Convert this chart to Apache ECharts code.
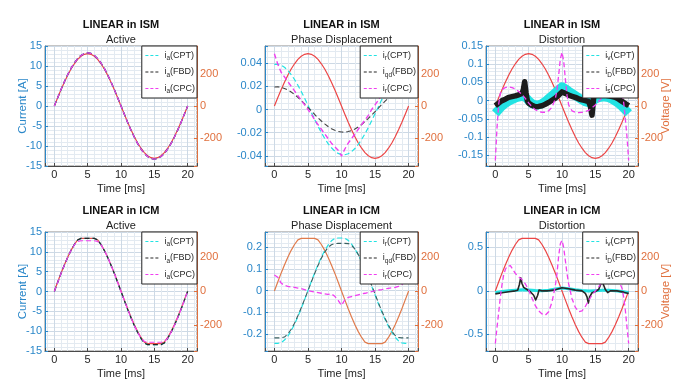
<!DOCTYPE html>
<html>
<head>
<meta charset="utf-8">
<script src="https://cdn.jsdelivr.net/npm/echarts@6/dist/echarts.min.js"></script>
<style>
  html, body { margin: 0; padding: 0; background: #fff; }
  #chart { width: 682px; height: 382px; }
</style>
</head>
<body>
<div id="chart"></div>
<script>
// time base, ms
var T = [0, 0.5, 1, 1.5, 2, 2.5, 3, 3.5, 4, 4.5, 5, 5.5, 6, 6.5, 7, 7.5, 8, 8.5, 9, 9.5, 10,
  10.5, 11, 11.5, 12, 12.5, 13, 13.5, 14, 14.5, 15, 15.5, 16, 16.5, 17, 17.5, 18, 18.5, 19, 19.5, 20];
var T1 = [0, 1, 2, 3, 4, 5, 6, 7, 8, 9, 10, 11, 12, 13, 14, 15, 16, 17, 18, 19, 20];

// supply voltage [V]
var vISM = [0, 51, 101, 148, 192, 231, 264, 291, 311, 323, 327, 323, 311, 291, 264, 231, 192, 148, 101, 51, 0,
  -51, -101, -148, -192, -231, -264, -291, -311, -323, -327, -323, -311, -291, -264, -231, -192, -148, -101, -51, 0];
var vICM = [0, 52, 104, 152, 197, 237, 271, 298, 307, 307, 307, 307, 307, 298, 271, 237, 197, 152, 104, 52, 0,
  -52, -104, -152, -197, -237, -271, -298, -307, -307, -307, -307, -307, -298, -271, -237, -197, -152, -104, -52, 0];

// active currents [A]
var iaISM = [0, 2.08, 4.11, 6.04, 7.82, 9.4, 10.76, 11.85, 12.65, 13.14, 13.3, 13.14, 12.65, 11.85, 10.76, 9.4, 7.82, 6.04, 4.11, 2.08, 0,
  -2.08, -4.11, -6.04, -7.82, -9.4, -10.76, -11.85, -12.65, -13.14, -13.3, -13.14, -12.65, -11.85, -10.76, -9.4, -7.82, -6.04, -4.11, -2.08, 0];
var iaICM = [0, 2.27, 4.54, 6.63, 8.6, 10.34, 11.83, 13.0, 13.4, 13.4, 13.4, 13.4, 13.4, 13.0, 11.83, 10.34, 8.6, 6.63, 4.54, 2.27, 0,
  -2.27, -4.54, -6.63, -8.6, -10.34, -11.83, -13.0, -13.4, -13.4, -13.4, -13.4, -13.4, -13.0, -11.83, -10.34, -8.6, -6.63, -4.54, -2.27, 0];
var iaCpcICM = [0, 2.27, 4.54, 6.63, 8.6, 10.34, 11.8, 12.6, 12.8, 12.8, 12.8, 12.8, 12.8, 12.6, 11.8, 10.34, 8.6, 6.63, 4.54, 2.27, 0,
  -2.27, -4.54, -6.63, -8.6, -10.34, -11.8, -12.6, -12.8, -12.8, -12.8, -12.8, -12.8, -12.6, -11.8, -10.34, -8.6, -6.63, -4.54, -2.27, 0];

// phase displacement currents [A]
var irCptISM = [0.0388, 0.0389, 0.0381, 0.0363, 0.0336, 0.03, 0.0258, 0.0209, 0.0155, 0.0097, 0.0037, -0.0024, -0.0085, -0.0144, -0.0199, -0.0249, -0.0293, -0.0329, -0.0358, -0.0378, -0.0388,
  -0.0389, -0.0381, -0.0363, -0.0336, -0.03, -0.0258, -0.0209, -0.0155, -0.0097, -0.0037, 0.0024, 0.0085, 0.0144, 0.0199, 0.0249, 0.0293, 0.0329, 0.0358, 0.0378, 0.0388];
var iqdISM = [0.0194, 0.0195, 0.019, 0.0181, 0.0168, 0.015, 0.0129, 0.0104, 0.0077, 0.0048, 0.0018, -0.0012, -0.0043, -0.0072, -0.0099, -0.0124, -0.0146, -0.0165, -0.0179, -0.0189, -0.0194,
  -0.0195, -0.019, -0.0181, -0.0168, -0.015, -0.0129, -0.0104, -0.0077, -0.0048, -0.0018, 0.0012, 0.0043, 0.0072, 0.0099, 0.0124, 0.0146, 0.0165, 0.0179, 0.0189, 0.0194];
var irCpcISM = [0.048, 0.039, 0.032, 0.028, 0.024, 0.02, 0.016, 0.012, 0.008, 0.004, 0, -0.004, -0.009, -0.013, -0.017, -0.021, -0.025, -0.029, -0.032, -0.035, -0.04,
  -0.034, -0.029, -0.025, -0.021, -0.017, -0.013, -0.009, -0.005, 0, 0.004, 0.008, 0.013, 0.017, 0.021, 0.025, 0.028, 0.031, 0.034, 0.039, 0.047];
var irCptICM = [-0.243, -0.243, -0.24, -0.228, -0.21, -0.185, -0.155, -0.12, -0.082, -0.042, 0, 0.042, 0.082, 0.12, 0.155, 0.185, 0.21, 0.23, 0.241, 0.243, 0.243,
  0.241, 0.232, 0.215, 0.192, 0.165, 0.133, 0.098, 0.06, 0.02, -0.02, -0.06, -0.098, -0.133, -0.165, -0.192, -0.215, -0.232, -0.241, -0.243, -0.243];
var iqdICM = [-0.218, -0.218, -0.218, -0.214, -0.2, -0.178, -0.15, -0.116, -0.079, -0.04, 0, 0.04, 0.079, 0.116, 0.15, 0.178, 0.2, 0.212, 0.217, 0.218, 0.218,
  0.218, 0.217, 0.21, 0.192, 0.167, 0.137, 0.102, 0.064, 0.024, -0.016, -0.056, -0.094, -0.128, -0.16, -0.187, -0.207, -0.216, -0.218, -0.218, -0.218];
var irCpcICM = [0.072, 0.062, 0.035, 0.024, 0.02, 0.017, 0.015, 0.012, 0.009, 0.005, 0, -0.003, -0.006, -0.009, -0.012, -0.015, -0.017, -0.015, -0.026, -0.045, -0.068,
  -0.042, -0.031, -0.027, -0.023, -0.019, -0.015, -0.012, -0.008, -0.004, 0, 0.003, 0.005, 0.008, 0.011, 0.013, 0.015, 0.02, 0.028, 0.043, 0.062];

// distortion currents, ISM [A]
var ivISM = [-0.035, -0.025, -0.015, -0.008, -0.002, 0.003, 0.007, 0.01, 0.012, 0.01, 0, -0.008, -0.012, -0.012, -0.008, -0.002, 0.006, 0.014, 0.022, 0.03, 0.038,
  0.033, 0.026, 0.02, 0.014, 0.008, 0.002, -0.003, -0.006, -0.003, 0.004, 0.008, 0.01, 0.01, 0.008, 0.004, -0.002, -0.008, -0.016, -0.025, -0.035];
var tDISM = [0, 0.5, 1, 1.5, 2, 2.5, 3, 3.5, 4, 4.2, 4.4, 4.6, 4.8, 5, 5.5, 6, 6.5, 7, 7.5, 8, 8.5, 9, 9.5, 10,
  10.5, 11, 11.5, 12, 12.5, 13, 13.5, 14, 14.25, 14.5, 14.75, 15, 15.5, 16, 16.5, 17, 17.5, 18, 18.5, 19, 19.5, 20];
var iDISM = [-0.014, -0.007, 0, 0.004, 0.009, 0.011, 0.013, 0.016, 0.02, 0.03, 0.052, 0.022, 0, -0.007, -0.013, -0.017, -0.016, -0.014, -0.01, -0.005, 0.001, 0.007, 0.015, 0.024,
  0.02, 0.015, 0.012, 0.009, 0.005, 0.002, 0, -0.003, -0.015, -0.04, 0.008, 0.018, 0.02, 0.018, 0.015, 0.013, 0.011, 0.009, 0.004, -0.002, -0.008, -0.014];
var tSISM = [0, 0.25, 0.5, 0.75, 1, 1.5, 2, 2.5, 3, 3.5, 4, 4.5, 5, 5.5, 6, 6.5, 7, 7.5, 8, 8.5, 9, 9.25, 9.5, 9.75, 10,
  10.25, 10.5, 10.75, 11, 11.5, 12, 12.5, 13, 13.5, 14, 14.5, 15, 15.5, 16, 16.5, 17, 17.5, 18, 18.5, 19, 19.25, 19.5, 19.75, 20];
var isISM = [-0.165, -0.075, -0.01, 0.02, 0.03, 0.036, 0.038, 0.036, 0.032, 0.025, 0.017, 0.006, -0.006, -0.017, -0.025, -0.03, -0.032, -0.032, -0.028, -0.018, 0.005, 0.03, 0.07, 0.115, 0.133,
  0.11, 0.06, 0.015, -0.012, -0.028, -0.032, -0.033, -0.032, -0.03, -0.027, -0.02, -0.012, -0.002, 0.008, 0.018, 0.026, 0.032, 0.035, 0.033, 0.02, -0.005, -0.05, -0.1, -0.165];

// distortion currents, ICM [A]
var ivICM = [-0.02, -0.008, 0, 0.008, 0.012, 0.01, 0.004, 0.002, 0.008, 0.02, 0.032, 0.024, 0.012, 0.004, -0.002, 0.002, 0.006, 0.006, 0.002, -0.008, -0.02];
var tDICM = [0, 1, 2, 3, 3.35, 3.6, 3.8, 4, 4.25, 4.75, 5.25, 5.75, 6.05, 6.35, 6.55, 6.75, 7, 7.75, 8.75, 10,
  11, 12, 13, 13.25, 13.5, 13.75, 13.95, 14.15, 14.5, 15, 15.5, 15.75, 16, 16.25, 16.5, 16.85, 17.25, 18.25, 19.25, 20];
var iDICM = [-0.035, -0.022, -0.01, 0, 0.008, 0.07, 0.15, 0.085, 0.04, 0.015, -0.01, -0.05, -0.105, -0.05, 0.008, 0.027, 0, 0, 0.008, 0.035,
  0.025, 0.008, 0, -0.01, -0.03, -0.07, -0.14, -0.07, -0.022, -0.008, 0.015, 0.065, 0.115, 0.065, 0.015, -0.02, 0, 0, -0.015, -0.03];
var tSICM = [0, 0.25, 0.5, 0.75, 1, 1.25, 1.5, 1.75, 2, 2.25, 2.5, 3, 3.5, 4, 4.5, 5, 5.5, 6, 6.5, 7, 7.5, 8, 8.5, 9, 9.25, 9.5, 9.75, 10,
  10.25, 10.5, 10.75, 11, 11.5, 12, 12.5, 13, 13.5, 14, 14.5, 15, 15.5, 16, 16.5, 17, 17.5, 18, 18.5, 19, 19.25, 19.5, 19.75, 20];
var isICM = [-0.605, -0.42, -0.25, -0.07, 0.07, 0.18, 0.245, 0.28, 0.295, 0.29, 0.26, 0.2, 0.16, 0.13, 0.08, 0.01, -0.085, -0.17, -0.23, -0.265, -0.28, -0.24, -0.13, 0.06, 0.2, 0.4, 0.54, 0.58,
  0.5, 0.35, 0.2, 0.08, -0.09, -0.19, -0.24, -0.23, -0.18, -0.11, -0.05, 0, 0.045, 0.1, 0.14, 0.19, 0.24, 0.22, 0.12, 0.03, -0.07, -0.22, -0.42, -0.605];

// panel texts, axis ranges
var TITLES = ['LINEAR in ISM', 'LINEAR in ISM', 'LINEAR in ISM', 'LINEAR in ICM', 'LINEAR in ICM', 'LINEAR in ICM'];
var SUBTITLES = ['Active', 'Phase Displacement', 'Distortion', 'Active', 'Phase Displacement', 'Distortion'];
var LEFT_RANGE = [[-15, 15], [-0.0486, 0.0546], [-0.18, 0.1504], [-15, 15], [-0.2784, 0.2706], [-0.691, 0.676]];
var LEFT_STEP = [5, 0.02, 0.05, 5, 0.1, 0.5];
var LEFT_SPLIT = [5, 5, 5, 5, 5, 3];
var LEFT_MINOR = [5, 4, 5, 5, 5, 5];
var RIGHT_RANGE = [[-375, 375], [-375, 375], [-375, 375], [-350, 344], [-350, 344], [-350, 344]];
var LEGENDS = [
  ['i_a(CPT)', 'i_a(FBD)', 'i_a(CPC)'],
  ['i_r(CPT)', 'i_qd(FBD)', 'i_r(CPC)'],
  ['i_v(CPT)', 'i_D(FBD)', 'i_s(CPC)'],
  ['i_a(CPT)', 'i_a(FBD)', 'i_a(CPC)'],
  ['i_r(CPT)', 'i_qd(FBD)', 'i_r(CPC)'],
  ['i_v(CPT)', 'i_D(FBD)', 'i_s(CPC)']
];

var BLUE = '#2a87c9', ORANGE = '#e0703e', RED = '#ec4646', RUST = '#e07b4c';
var CYAN = '#22e3e3', BLACK = '#262626', MAGENTA = '#f03ff0';
var GRID_MAJ = '#cdd9e5', GRID_MIN = '#e3eaf1';
var FONT = '"Liberation Sans", Arial, sans-serif';
var LEG_COLORS = [CYAN, BLACK, MAGENTA];

var CHART_W = 682;
var COL_L = [45, 265, 486], COL_W = [152, 153, 152];
var ROW_T = [46, 232], ROW_H = [120, 119];

// panel, side (0 left / 1 right), name, t, values, colour, width, dashed
var curves = [
  [0, 1, 'v0', T, vISM, RED, 1.2, false],
  [0, 0, 'i_a(CPT)', T, iaISM, CYAN, 1.2, true],
  [0, 0, 'i_a(FBD)', T, iaISM, BLACK, 1.2, true],
  [0, 0, 'i_a(CPC)', T, iaISM, MAGENTA, 1.2, true],

  [1, 1, 'v1', T, vISM, RED, 1.2, false],
  [1, 0, 'i_r(CPT)', T, irCptISM, CYAN, 1.2, true],
  [1, 0, 'i_qd(FBD)', T, iqdISM, '#444', 1.1, true],
  [1, 0, 'i_r(CPC)', T, irCpcISM, MAGENTA, 1.4, true],

  [2, 1, 'v2', T, vISM, RED, 1.2, false],
  [2, 0, 'i_v(CPT)', T, ivISM, CYAN, 9, false],
  [2, 0, 'i_D(FBD)', tDISM, iDISM, '#1c1c1c', 5.5, false],
  [2, 0, 'i_s(CPC)', tSISM, isISM, MAGENTA, 1.3, true],

  [3, 1, 'v3', T, vICM, RED, 1.2, false],
  [3, 0, 'i_a(CPT)', T, iaICM, CYAN, 1.2, true],
  [3, 0, 'i_a(FBD)', T, iaICM, BLACK, 1.2, true],
  [3, 0, 'i_a(CPC)', T, iaCpcICM, MAGENTA, 1.2, true],

  [4, 1, 'v4', T, vICM, RUST, 1.2, false],
  [4, 0, 'i_r(CPT)', T, irCptICM, CYAN, 1.2, true],
  [4, 0, 'i_qd(FBD)', T, iqdICM, '#3a5f5f', 1.1, true],
  [4, 0, 'i_r(CPC)', T, irCpcICM, MAGENTA, 1.3, true],

  [5, 1, 'v5', T, vICM, RED, 1.2, false],
  [5, 0, 'i_v(CPT)', T1, ivICM, CYAN, 3, false],
  [5, 0, 'i_D(FBD)', tDICM, iDICM, BLACK, 1.6, false],
  [5, 0, 'i_s(CPC)', tSICM, isICM, MAGENTA, 1.3, true]
];

function stepFmt(step) {
  return function (v) {
    var k = v / step;
    if (Math.abs(k - Math.round(k)) > 1e-6) return '';
    var s = parseFloat((Math.round(k) * step).toFixed(6));
    return String(s === 0 ? 0 : s);
  };
}

function legendFmt(name) {
  var m = name.match(/^i_(\w+)(\(.*\))$/);
  return '{b|i}{s|' + m[1] + '}{b|' + m[2] + '}';
}

function buildOption() {
  var option = {
    animation: false,
    textStyle: { fontFamily: FONT },
    title: [], legend: [], grid: [], xAxis: [], yAxis: [], series: []
  };

  for (var p = 0; p < 6; p++) {
    var row = Math.floor(p / 3), col = p % 3;
    var gx = COL_L[col], gy = ROW_T[row], gw = COL_W[col], gh = ROW_H[row];

    option.grid.push({ left: gx, top: gy, width: gw, height: gh, show: true, borderColor: '#8a8a8a', borderWidth: 1 });

    option.title.push({
      text: TITLES[p], subtext: SUBTITLES[p],
      left: gx + gw / 2, top: gy - 26.5, textAlign: 'center', padding: 0, itemGap: 4,
      textStyle: { fontFamily: FONT, fontSize: 11, fontWeight: 'bold', color: '#111' },
      subtextStyle: { fontFamily: FONT, fontSize: 11, color: '#222' }
    });

    option.xAxis.push({
      type: 'value', gridIndex: p, min: -1.4, max: 21.4, splitNumber: 5,
      name: 'Time [ms]', nameLocation: 'middle', nameGap: 17,
      nameTextStyle: { fontFamily: FONT, fontSize: 11, color: '#262626' },
      axisLine: { onZero: false, lineStyle: { color: '#4a4a4a', width: 1 } },
      axisTick: { inside: true, length: 3, lineStyle: { color: '#4a4a4a' } },
      axisLabel: { fontFamily: FONT, fontSize: 11, color: '#262626', margin: 3, formatter: stepFmt(5) },
      splitLine: { show: true, lineStyle: { color: GRID_MAJ, width: 1 } },
      minorTick: { show: false, splitNumber: 5 },
      minorSplitLine: { show: true, lineStyle: { color: GRID_MIN, width: 1 } }
    });

    option.yAxis.push({
      type: 'value', gridIndex: p, position: 'left',
      min: LEFT_RANGE[p][0], max: LEFT_RANGE[p][1], splitNumber: LEFT_SPLIT[p],
      name: col === 0 ? 'Current [A]' : '', nameLocation: 'middle', nameGap: 16, nameRotate: 90,
      nameMoveOverlap: false,
      nameTextStyle: { fontFamily: FONT, fontSize: 11.5, color: BLUE },
      axisLine: { show: true, onZero: false, lineStyle: { color: BLUE, width: 1 } },
      axisTick: { show: true, inside: true, length: 3, lineStyle: { color: BLUE } },
      axisLabel: { fontFamily: FONT, fontSize: 11, color: BLUE, margin: 3, formatter: stepFmt(LEFT_STEP[p]) },
      splitLine: { show: true, lineStyle: { color: GRID_MAJ, width: 1 } },
      minorTick: { show: false, splitNumber: LEFT_MINOR[p] },
      minorSplitLine: { show: true, lineStyle: { color: GRID_MIN, width: 1 } }
    });

    option.yAxis.push({
      type: 'value', gridIndex: p, position: 'right',
      min: RIGHT_RANGE[p][0], max: RIGHT_RANGE[p][1], splitNumber: 4,
      name: col === 2 ? 'Voltage [V]' : '', nameLocation: 'middle', nameGap: 22, nameRotate: 90,
      nameMoveOverlap: false,
      nameTextStyle: { fontFamily: FONT, fontSize: 11.5, color: ORANGE },
      axisLine: { show: true, onZero: false, lineStyle: { color: ORANGE, width: 1 } },
      axisTick: { show: true, inside: true, length: 3, lineStyle: { color: ORANGE } },
      axisLabel: { fontFamily: FONT, fontSize: 11, color: ORANGE, margin: 3, formatter: stepFmt(200) },
      splitLine: { show: false }
    });

    option.legend.push({
      data: LEGENDS[p].map(function (n, k) {
        return { name: n, lineStyle: { color: LEG_COLORS[k], width: 1.2, type: [3, 2] }, itemStyle: { opacity: 0 } };
      }),
      orient: 'vertical', right: CHART_W - gx - gw, top: gy,
      itemWidth: 14, itemHeight: 11, itemGap: 3.5, padding: [3, 2, 3, 3],
      backgroundColor: '#fff', borderColor: '#262626', borderWidth: 1, borderRadius: 0,
      selectedMode: false,
      formatter: legendFmt,
      textStyle: {
        fontFamily: FONT, fontSize: 9, color: '#262626',
        rich: {
          b: { fontFamily: FONT, fontSize: 9, lineHeight: 11, color: '#262626' },
          s: { fontFamily: FONT, fontSize: 6.5, lineHeight: 5, padding: [6, 0, 0, 0], color: '#262626' }
        }
      }
    });
  }

  curves.forEach(function (cv) {
    option.series.push({
      type: 'line', name: cv[2],
      xAxisIndex: cv[0], yAxisIndex: cv[0] * 2 + cv[1],
      data: cv[3].map(function (t, i) { return [t, cv[4][i]]; }),
      symbol: 'none', silent: true, z: cv[1] ? 2 : 3,
      lineStyle: { color: cv[5], width: cv[6], type: cv[7] ? [5, 3] : 'solid', join: 'round' },
      itemStyle: { color: cv[5] }
    });
  });

  return option;
}

var chart = echarts.init(document.getElementById('chart'));
chart.setOption(buildOption());
</script>
</body>
</html>
